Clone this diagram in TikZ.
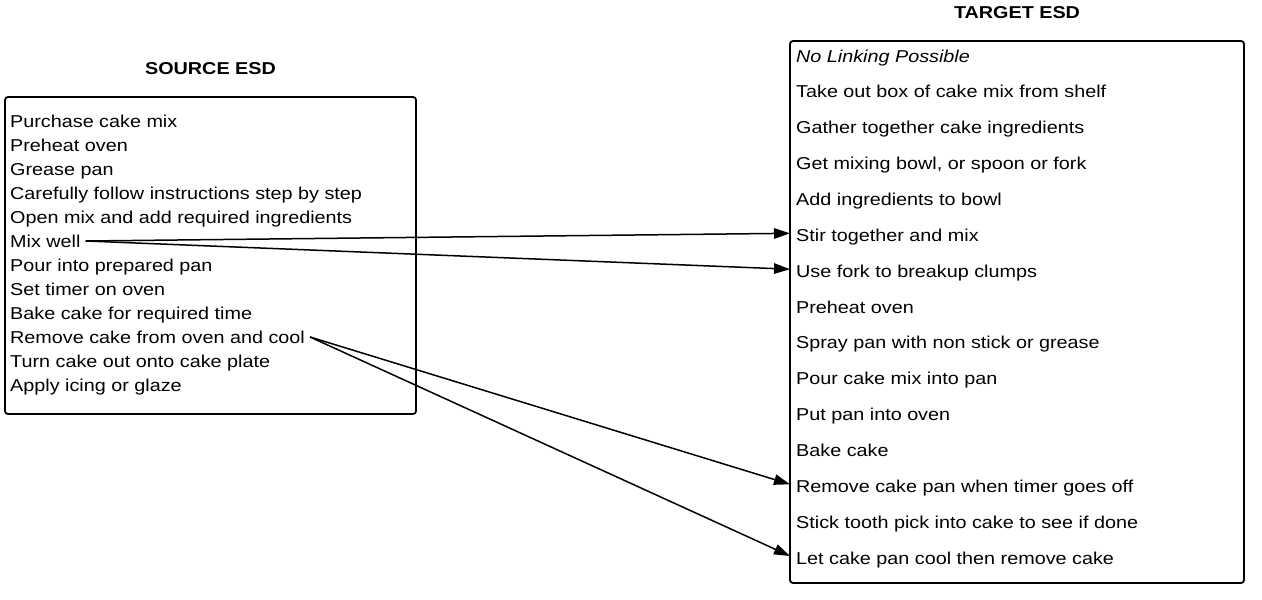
\documentclass[tikz,border=0pt]{standalone}
\usepackage{fontspec}
\setmainfont{Liberation Sans}[FakeStretch=1.15]
\usetikzlibrary{arrows.meta}
\tikzset{
  box/.style={draw=black, line width=1.8pt, rounded corners=3pt},
  item/.style={anchor=base west, inner xsep=5pt, inner ysep=0pt, text height=12pt, text depth=0pt, font=\fontsize{17.2}{20}\selectfont},
  titem/.style={item, inner xsep=6pt, text height=16pt},
  ttl/.style={anchor=base, inner sep=0pt, font=\fontsize{17.2}{20}\selectfont\bfseries},
  link/.style={draw=black, line width=1.5pt, -{Triangle[length=16pt,width=10.5pt]}}
}
\begin{document}
\begin{tikzpicture}[x=1pt,y=-1pt]
\useasboundingbox (0,0) rectangle (1262,600);
% boxes
\draw[box] (5,97) rectangle (416,414);
\draw[box] (790,41) rectangle (1244,583);
% titles
\node[ttl] (srcttl) at (210.5,74) {SOURCE ESD};
\node[ttl] (tgtttl) at (1017,18) {TARGET ESD};
% source items
\node[item] (s1) at (5,127) {Purchase cake mix};
\node[item] (s2) at (5,151) {Preheat oven};
\node[item] (s3) at (5,175) {Grease pan};
\node[item] (s4) at (5,199) {Carefully follow instructions step by step};
\node[item] (s5) at (5,223) {Open mix and add required ingredients};
\node[item] (s6) at (5,247) {Mix well};
\node[item] (s7) at (5,271) {Pour into prepared pan};
\node[item] (s8) at (5,295) {Set timer on oven};
\node[item] (s9) at (5,319) {Bake cake for required time};
\node[item] (s10) at (5,343) {Remove cake from oven and cool};
\node[item] (s11) at (5,367) {Turn cake out onto cake plate};
\node[item] (s12) at (5,391) {Apply icing or glaze};
% target items
\node[titem] (t1) at (790,62) {\itshape No Linking Possible};
\node[titem] (t2) at (790,97.9) {Take out box of cake mix from shelf};
\node[titem] (t3) at (790,133.7) {Gather together cake ingredients};
\node[titem] (t4) at (790,169.6) {Get mixing bowl, or spoon or fork};
\node[titem] (t5) at (790,205.4) {Add ingredients to bowl};
\node[titem] (t6) at (790,241.3) {Stir together and mix};
\node[titem] (t7) at (790,277.2) {Use fork to breakup clumps};
\node[titem] (t8) at (790,313) {Preheat oven};
\node[titem] (t9) at (790,348.9) {Spray pan with non stick or grease};
\node[titem] (t10) at (790,384.7) {Pour cake mix into pan};
\node[titem] (t11) at (790,420.6) {Put pan into oven};
\node[titem] (t12) at (790,456.5) {Bake cake};
\node[titem] (t13) at (790,492.3) {Remove cake pan when timer goes off};
\node[titem] (t14) at (790,528.2) {Stick tooth pick into cake to see if done};
\node[titem] (t15) at (790,564) {Let cake pan cool then remove cake};
% links
\draw[link] (s6.east) -- (t6.west);
\draw[link] (s6.east) -- (t7.west);
\draw[link] (s10.east) -- (t13.west);
\draw[link] (s10.east) -- (t15.west);
\end{tikzpicture}
\end{document}
